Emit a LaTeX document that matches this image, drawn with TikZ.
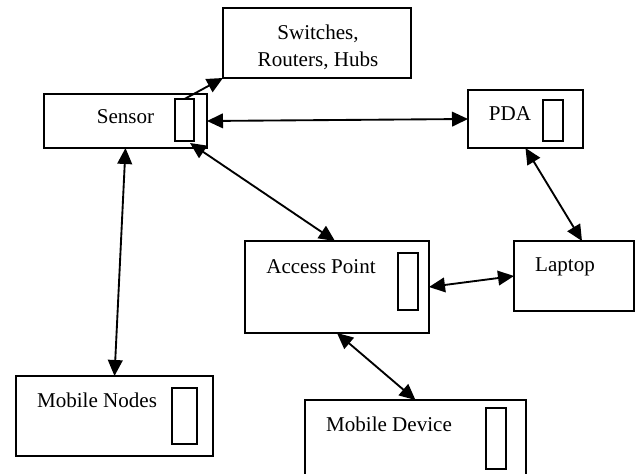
\documentclass[tikz,border=0pt]{standalone}
\usepackage{fontspec}
\setmainfont{Liberation Serif}
\usetikzlibrary{arrows.meta,calc}
\begin{document}
\begin{tikzpicture}[x=0.75pt,y=-0.75pt,
  box/.style={draw,line width=1.4pt,inner sep=0pt,outer sep=0pt},
  slot/.style={draw,line width=1.4pt,inner sep=0pt,outer sep=0pt},
  lbl/.style={inner sep=0pt,font=\fontsize{15.8}{20}\selectfont,align=center},
  conn/.style={line width=1.4pt,-{Triangle[length=12pt,width=11pt]}},
  biconn/.style={line width=1.4pt,{Triangle[length=12pt,width=11pt]}-{Triangle[length=12pt,width=11pt]}}]
\useasboundingbox (0,0) rectangle (643,474);
\clip (0,0) rectangle (643,474);
% boxes
\node[box,minimum width=141pt,minimum height=52.5pt] (sw) at (317,43) {};
\node[box,minimum width=122.25pt,minimum height=40.5pt] (sensor) at (125.5,121) {};
\node[box,minimum width=86.25pt,minimum height=43.5pt] (pda) at (525.5,119) {};
\node[box,minimum width=138pt,minimum height=69pt] (ap) at (337,287) {};
\node[box,minimum width=90pt,minimum height=52.5pt] (laptop) at (574,276) {};
\node[box,minimum width=147.75pt,minimum height=60pt] (mn) at (114.5,416) {};
\node[box,minimum width=165.75pt,minimum height=67.5pt] (md) at (415.5,445) {};
% inner slots
\node[slot,minimum width=14.25pt,minimum height=31.5pt] (sensorslot) at (184.5,120) {};
\node[slot,minimum width=15pt,minimum height=30.75pt] (pdaslot) at (553,120.5) {};
\node[slot,minimum width=15pt,minimum height=42.75pt] (apslot) at (408,281.5) {};
\node[slot,minimum width=18.75pt,minimum height=42pt] (mnslot) at (184.5,416) {};
\node[slot,minimum width=15pt,minimum height=45.75pt] (mdslot) at (496,438.5) {};
% labels
\node[lbl] (swt) at (318,47) {Switches,\\Routers, Hubs};
\node[lbl,anchor=base] (sensort) at (125.5,124) {Sensor};
\node[lbl] (pdat) at (510,114) {PDA};
\node[lbl] (apt) at (321,267) {Access Point};
\node[lbl] (laptopt) at (565,267) {Laptop};
\node[lbl] (mnt) at (97,400) {Mobile Nodes};
\node[lbl] (mdt) at (389,424) {Mobile Device};
% connectors
\draw[conn] (sensorslot.north) -- (sw.south west);
\draw[biconn] (sensor.east) -- (pda.west);
\draw[biconn] ($(sensorslot.south east)+(-4,2)$) -- ($(ap.north)+(-2,0)$);
\draw[biconn] (sensor.south) -- (mn.north);
\draw[biconn] (pda.south) -- ($(laptop.north east)+(-52,0)$);
\draw[biconn] (ap.east) -- (laptop.west);
\draw[biconn] (ap.south) -- (md.north);
\end{tikzpicture}
\end{document}
